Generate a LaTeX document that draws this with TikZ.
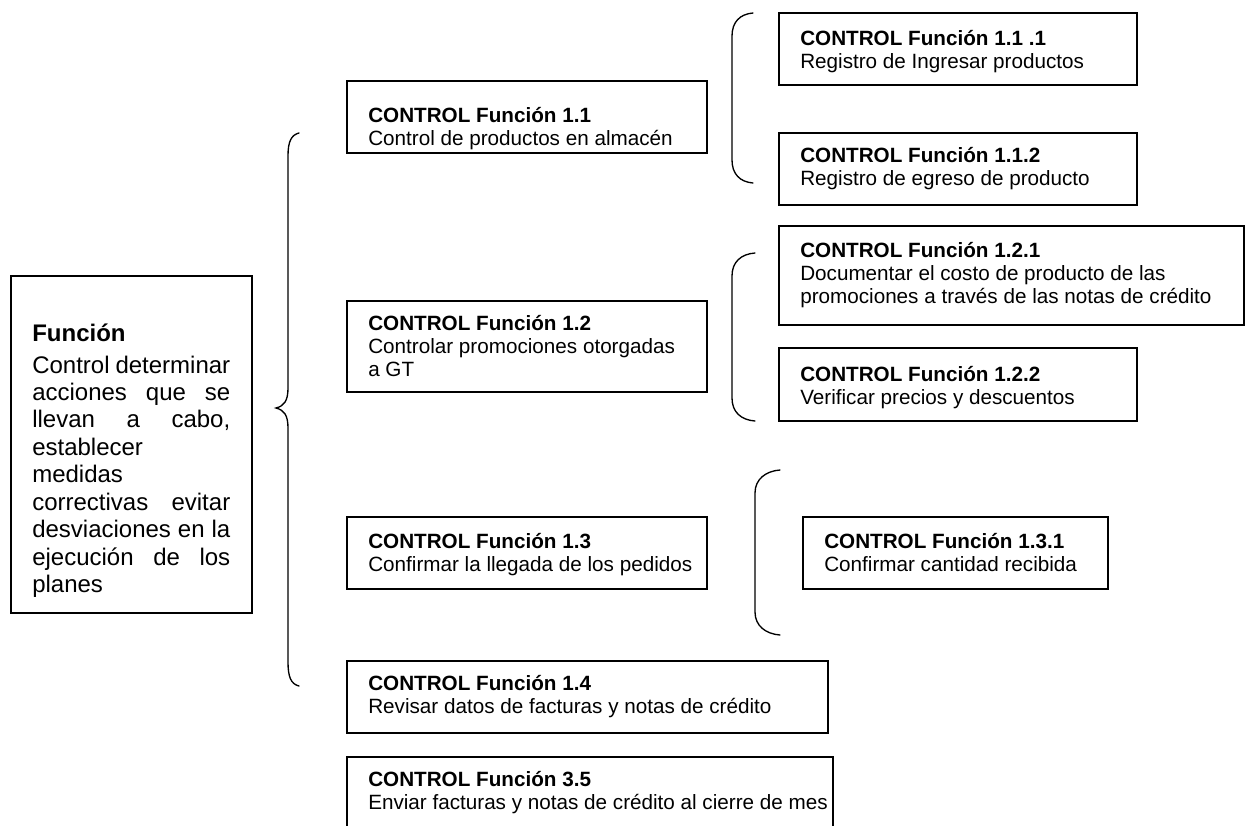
\documentclass[tikz,border=0pt]{standalone}
\usepackage{fontspec}
\setmainfont{Liberation Sans}
\usetikzlibrary{fit}

\tikzset{
  box/.style={draw=black, line width=1.1pt, inner sep=0pt, fill=none},
  txt/.style={inner sep=0pt, anchor=base west, font=\fontsize{15.5pt}{17.25pt}\selectfont},
  bigtxt/.style={inner sep=0pt, anchor=base west, font=\fontsize{18pt}{20.6pt}\selectfont},
  brace/.style={draw=black, line width=1pt, line cap=round}
}
\newcommand{\boxlines}[1]{\parbox[t]{14cm}{\raggedright #1}}
\newcommand{\jline}[1]{\makebox[\linewidth][s]{#1}}

\begin{document}
\begin{tikzpicture}[x=0.75pt,y=-0.75pt]
\useasboundingbox (0,0) rectangle (1246,825);

% main function box
\node[box, fit={(11,276)(252,613)}] (f) {};
\node[bigtxt] (ft) at (32,341) {\parbox[t]{148.5pt}{%
  \textbf{Función}\\[3.4pt]
  \jline{Control determinar}\\
  \jline{acciones que se}\\
  \jline{llevan a cabo,}\\
  establecer\\
  medidas\\
  \jline{correctivas evitar}\\
  \jline{desviaciones en la}\\
  \jline{ejecución de los}\\
  planes}};

% first level
\node[box, fit={(347,81)(707,153)}] (c11) {};
\node[txt] (c11t) at (368,122) {\boxlines{\textbf{CONTROL Función 1.1}\\Control de productos en almacén}};

\node[box, fit={(347,301)(707,392)}] (c12) {};
\node[txt] (c12t) at (368,330) {\boxlines{\textbf{CONTROL Función 1.2}\\Controlar promociones otorgadas\\a GT}};

\node[box, fit={(347,517)(707,589)}] (c13) {};
\node[txt] (c13t) at (368,548) {\boxlines{\textbf{CONTROL Función 1.3}\\Confirmar la llegada de los pedidos}};

\node[box, fit={(347,661)(828,733)}] (c14) {};
\node[txt] (c14t) at (368,690) {\boxlines{\textbf{CONTROL Función 1.4}\\Revisar datos de facturas y notas de crédito}};

\node[box, fit={(347,757)(833,835)}] (c35) {};
\node[txt] (c35t) at (368,786) {\boxlines{\textbf{CONTROL Función 3.5}\\Enviar facturas y notas de crédito al cierre de mes}};

% second level
\node[box, fit={(779,13)(1137,85)}] (c111) {};
\node[txt] (c111t) at (800,45) {\boxlines{\textbf{CONTROL Función 1.1 .1}\\Registro de Ingresar productos}};

\node[box, fit={(779,133)(1137,205)}] (c112) {};
\node[txt] (c112t) at (800,162) {\boxlines{\textbf{CONTROL Función 1.1.2}\\Registro de egreso de producto}};

\node[box, fit={(779,226)(1244,325)}] (c121) {};
\node[txt] (c121t) at (800,257) {\boxlines{\textbf{CONTROL Función 1.2.1}\\Documentar el costo de producto de las\\promociones a través de las notas de crédito}};

\node[box, fit={(779,348)(1137,421)}] (c122) {};
\node[txt] (c122t) at (800,381) {\boxlines{\textbf{CONTROL Función 1.2.2}\\Verificar precios y descuentos}};

\node[box, fit={(803,517)(1108,589)}] (c131) {};
\node[txt] (c131t) at (824,548) {\boxlines{\textbf{CONTROL Función 1.3.1}\\Confirmar cantidad recibida}};

% braces
\draw[brace] (299,133) .. controls (291,135) and (288,142) .. (288,156)
  -- (288,388) .. controls (288,401) and (284,406) .. (276,408)
  .. controls (284,410) and (288,415) .. (288,428)
  -- (288,662) .. controls (288,677) and (291,684) .. (299,686);

\draw[brace] (753,13) .. controls (740,14) and (732,22) .. (732,36)
  -- (732,160) .. controls (732,174) and (740,182) .. (753,183);

\draw[brace] (755,253) .. controls (741,254) and (732,262) .. (732,276)
  -- (732,398) .. controls (732,412) and (741,420) .. (755,421);

\draw[brace] (780,470) .. controls (766,471) and (755,479) .. (755,493)
  -- (755,612) .. controls (755,626) and (766,634) .. (780,635);
\end{tikzpicture}
\end{document}
